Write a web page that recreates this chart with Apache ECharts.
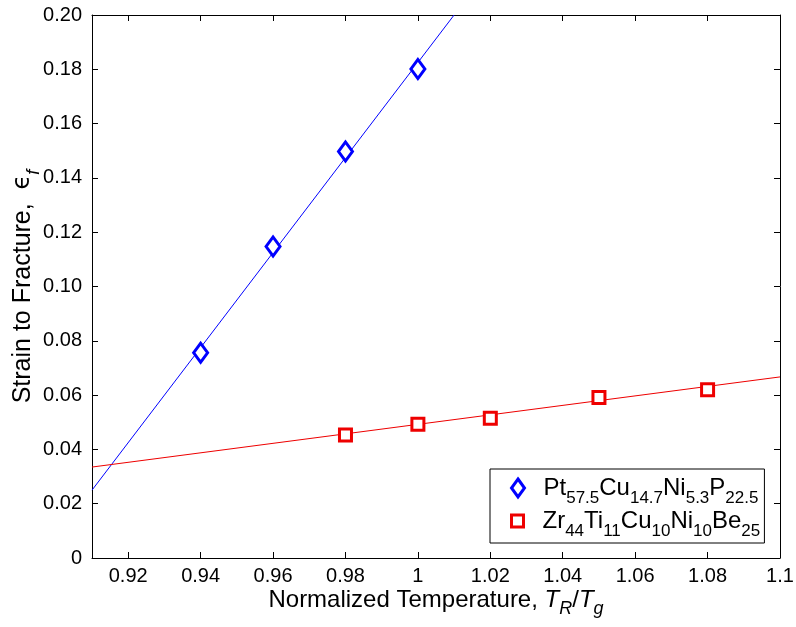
<!DOCTYPE html>
<html>
<head>
<meta charset="utf-8">
<title>Strain to Fracture</title>
<script src="https://cdn.jsdelivr.net/npm/echarts@6/dist/echarts.min.js"></script>
<style>
  html, body { margin: 0; padding: 0; background: #fff; }
  #chart { width: 796px; height: 627px; }
</style>
</head>
<body>
<div id="chart"></div>
<script>
// 数据
var ptX = [0.94, 0.96, 0.98, 1.00]
var ptY = [0.0756, 0.1147, 0.1497, 0.1801]
var zrX = [0.98, 1.00, 1.02, 1.05, 1.08]
var zrY = [0.0453, 0.0493, 0.0515, 0.0591, 0.0620]
// fitted lines, end points as seen in the plot
var ptFit = [[0.91, 0.0250], [1.01, 0.2000]]
var zrFit = [[0.91, 0.0335], [1.10, 0.0667]]
// x tick labels (axis starts at 0.91 but ticks are on even hundredths)
var xTicks = [0.92, 0.94, 0.96, 0.98, 1.00, 1.02, 1.04, 1.06, 1.08, 1.10]

var ptName = 'Pt57.5Cu14.7Ni5.3P22.5'
var zrName = 'Zr44Ti11Cu10Ni10Be25'
var ptLabel = '{g|}Pt{s|57.5}Cu{s|14.7}Ni{s|5.3}P{s|22.5}'
var zrLabel = '{g|}Zr{s|44}Ti{s|11}Cu{s|10}Ni{s|10}Be{s|25}'

var FONT = "'Liberation Sans', Arial, sans-serif"
var BLUE = '#0000ff'
var RED = '#ee0000'

function zip (xs, ys) {
  return xs.map(function (x, i) { return [x, ys[i]] })
}

// subscript style: pushed down with top padding, small lineHeight so the line does not grow
function sub (size, drop, italic) {
  return {
    fontSize: size,
    fontStyle: italic ? 'italic' : 'normal',
    fontFamily: FONT,
    color: '#000',
    lineHeight: 4,
    verticalAlign: 'top',
    padding: [drop, 0, 0, 0]
  }
}

var chart = echarts.init(document.getElementById('chart'))

var legendText = {
  fontSize: 24, fontFamily: FONT, color: '#000', lineHeight: 38,
  rich: { g: { width: 14 }, s: sub(17, 21, false) }
}

var tickLine = { lineStyle: { color: '#000', width: 1 } }

var option = {
  animation: false,
  backgroundColor: '#fff',
  textStyle: { fontFamily: FONT },
  grid: { left: 92, right: 16, top: 15, bottom: 69, containLabel: false, outerBoundsMode: 'none' },
  xAxis: [
    {
      type: 'value',
      min: 0.91,
      max: 1.1,
      name: 'Normalized Temperature, {it|T}{s|R}{n|/}{it|T}{s|g}',
      nameLocation: 'middle',
      nameGap: 25,
      nameMoveOverlap: false,
      nameTextStyle: {
        fontSize: 24, color: '#000', fontFamily: FONT, lineHeight: 34,
        rich: {
          it: { fontSize: 24, fontStyle: 'italic', fontFamily: FONT, color: '#000', lineHeight: 34 },
          n: { fontSize: 24, fontFamily: FONT, color: '#000', lineHeight: 34 },
          s: sub(18, 17, true)
        }
      },
      axisLine: { onZero: false, lineStyle: { color: '#000', width: 1 } },
      axisTick: { inside: true, length: 6, customValues: xTicks, lineStyle: tickLine.lineStyle },
      axisLabel: {
        customValues: xTicks,
        fontSize: 20,
        color: '#000',
        margin: 8,
        formatter: function (v) { return String(+v.toFixed(2)) }
      },
      splitLine: { show: false }
    },
    {
      type: 'value',
      position: 'top',
      min: 0.91,
      max: 1.1,
      axisLine: { onZero: false, lineStyle: { color: '#000', width: 1 } },
      axisTick: { inside: true, length: 6, customValues: xTicks, lineStyle: tickLine.lineStyle },
      axisLabel: { show: false },
      splitLine: { show: false }
    }
  ],
  yAxis: [
    {
      type: 'value',
      min: 0,
      max: 0.2,
      interval: 0.02,
      name: 'Strain to Fracture,  {e|ϵ}{s|f}',
      nameLocation: 'middle',
      nameRotate: 90,
      nameGap: 53,
      nameMoveOverlap: false,
      nameTextStyle: {
        fontSize: 25, color: '#000', fontFamily: FONT, lineHeight: 32,
        rich: {
          e: { fontSize: 24, fontFamily: "'DejaVu Sans', " + FONT, color: '#000', lineHeight: 32 },
          s: sub(18, 18, true)
        }
      },
      axisLine: { show: true, onZero: false, lineStyle: { color: '#000', width: 1 } },
      axisTick: { show: true, inside: true, length: 6, lineStyle: tickLine.lineStyle },
      axisLabel: {
        fontSize: 20,
        color: '#000',
        margin: 10,
        formatter: function (v) { return v === 0 ? '0' : v.toFixed(2) }
      },
      splitLine: { show: false }
    },
    {
      type: 'value',
      position: 'right',
      min: 0,
      max: 0.2,
      interval: 0.02,
      axisLine: { show: true, onZero: false, lineStyle: { color: '#000', width: 1 } },
      axisTick: { show: true, inside: true, length: 6, lineStyle: tickLine.lineStyle },
      axisLabel: { show: false },
      splitLine: { show: false }
    }
  ],
  // 图例 - two legends so each icon keeps its own shape; the first one draws the box
  legend: [
    {
      orient: 'vertical',
      left: 490,
      top: 469,
      padding: [0, 6, 36, 20],
      backgroundColor: '#fff',
      borderColor: '#000',
      borderWidth: 1,
      borderRadius: 0,
      itemWidth: 13,
      itemHeight: 18,
      symbolKeepAspect: false,
      selectedMode: false,
      data: [{ name: ptName, icon: 'diamond', itemStyle: { color: '#fff', borderColor: BLUE, borderWidth: 3 } }],
      formatter: function () { return ptLabel },
      textStyle: legendText
    },
    {
      orient: 'vertical',
      left: 490,
      top: 502,
      z: 5,
      padding: [0, 3, 0, 20],
      itemWidth: 12,
      itemHeight: 12,
      selectedMode: false,
      data: [{ name: zrName, icon: 'rect', itemStyle: { color: '#fff', borderColor: RED, borderWidth: 3 } }],
      formatter: function () { return zrLabel },
      textStyle: legendText
    }
  ],
  series: [
    {
      name: ptName + ' fit',
      type: 'line',
      data: ptFit,
      symbol: 'none',
      lineStyle: { color: BLUE, width: 1 },
      clip: true,
      z: 2
    },
    {
      name: zrName + ' fit',
      type: 'line',
      data: zrFit,
      symbol: 'none',
      lineStyle: { color: RED, width: 1 },
      clip: true,
      z: 2
    },
    {
      name: ptName,
      type: 'scatter',
      data: zip(ptX, ptY),
      symbol: 'diamond',
      symbolSize: [14, 19],
      itemStyle: { color: '#fff', borderColor: BLUE, borderWidth: 3, opacity: 1 },
      z: 3
    },
    {
      name: zrName,
      type: 'scatter',
      data: zip(zrX, zrY),
      symbol: 'rect',
      symbolSize: 12,
      itemStyle: { color: '#fff', borderColor: RED, borderWidth: 3, opacity: 1 },
      z: 3
    }
  ]
}
chart.setOption(option)
</script>
</body>
</html>
